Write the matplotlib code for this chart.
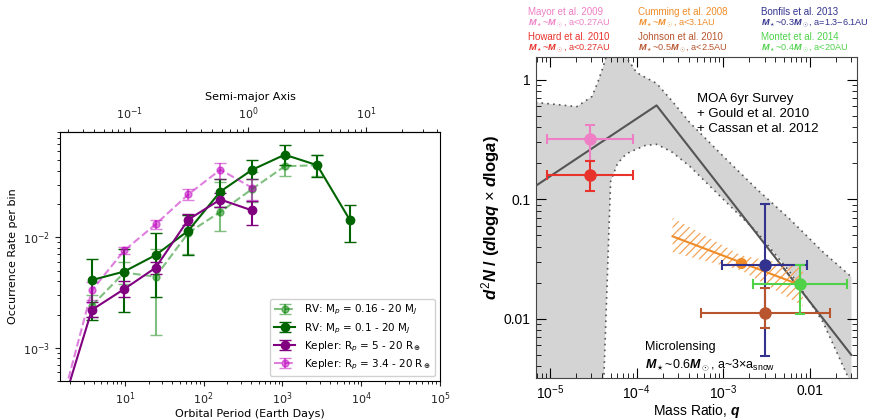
import matplotlib.pyplot as plt
import matplotlib.ticker as mticker
import numpy as np

# ---------------- left panel: occurrence rate vs orbital period ----------------
rv_wide_P = [3.8, 9.8, 24.5, 64, 163, 415, 1070, 2760]
rv_wide = [2.4e-3, 4.8e-3, 4.4e-3, 1.1e-2, 1.7e-2, 2.75e-2, 4.4e-2, 4.5e-2]
rv_wide_lo = [1.9e-3, 3.8e-3, 1.3e-3, 7.0e-3, 1.15e-2, 2.1e-2, 3.6e-2, 3.6e-2]
rv_wide_hi = [3.0e-3, 6.0e-3, 7.8e-3, 1.6e-2, 3.2e-2, 3.9e-2, 5.3e-2, 5.6e-2]

rv_P = [3.8, 9.8, 24.5, 64, 163, 415, 1070, 2760, 7200]
rv = [4.1e-3, 4.9e-3, 6.9e-3, 1.15e-2, 2.6e-2, 4.1e-2, 5.6e-2, 4.5e-2, 1.43e-2]
rv_lo = [1.8e-3, 2.1e-3, 2.9e-3, 6.9e-3, 1.9e-2, 3.4e-2, 4.5e-2, 3.5e-2, 9.0e-3]
rv_hi = [6.4e-3, 7.8e-3, 1.09e-2, 1.6e-2, 3.4e-2, 5.0e-2, 6.8e-2, 5.6e-2, 1.95e-2]

kep_P = [1.5, 3.8, 9.8, 24.5, 64, 163, 415]
kep = [2.5e-4, 2.2e-3, 3.4e-3, 5.3e-3, 1.45e-2, 2.2e-2, 1.75e-2]
kep_lo = [2.0e-4, 1.9e-3, 2.9e-3, 4.7e-3, 1.28e-2, 1.9e-2, 1.3e-2]
kep_hi = [3.0e-4, 2.6e-3, 4.0e-3, 6.0e-3, 1.62e-2, 2.5e-2, 2.15e-2]

kep_wide_P = [1.5, 3.8, 9.8, 24.5, 64, 163, 415]
kep_wide = [2.7e-4, 3.3e-3, 7.6e-3, 1.31e-2, 2.45e-2, 4.1e-2, 2.8e-2]
kep_wide_lo = [2.2e-4, 2.7e-3, 7.0e-3, 1.2e-2, 2.2e-2, 3.4e-2, 2.2e-2]
kep_wide_hi = [3.2e-4, 3.9e-3, 8.2e-3, 1.45e-2, 2.75e-2, 4.7e-2, 3.4e-2]

# ---------------- right panel: planet frequency vs mass ratio ----------------
fit_q = [6.9e-6, 1.7e-4, 0.03]
fit_n = [0.13, 0.61, 5.0e-3]

band_logq = [-5.3, -5.16, -4.885, -4.69, -4.515, -4.45, -4.39, -4.3, -4.22, -4.12,
             -4.0, -3.9, -3.77, -3.6, -3.385, -3.0, -2.61, -2.23, -1.85, -1.52]
band_hi_log = [-0.19, -0.19, -0.21, -0.225, -0.14, -0.025, 0.10, 0.32, 0.32, 0.19,
               0.06, 0.02, -0.03, -0.17, -0.36, -0.64, -0.917, -1.167, -1.44, -1.65]
band_lo_log = [-4.5, -4.2, -3.9, -3.6, -3.3, -3.0, -2.75, -0.85, -0.7, -0.62,
               -0.58, -0.55, -0.54, -0.6, -0.725, -1.0, -1.275, -1.61, -2.025, -2.55]

cum_q = [2.6e-4, 1.6e-3, 8.3e-3]
cum_line = [0.049, 0.0296, 0.0188]
cum_hi = [0.07, 0.034, 0.027]
cum_lo = [0.036, 0.0255, 0.0128]
cum_point_q, cum_point_n = 1.6e-3, 0.0296

surveys = ['Mayor et al. 2009', 'Cumming et al. 2008', 'Bonfils et al. 2013',
           'Howard et al. 2010', 'Johnson et al. 2010', 'Montet et al. 2014']
survey_info = [r'$M_\star$~$M_\odot$, a<0.27AU', r'$M_\star$~$M_\odot$, a<3.1AU',
               r'$M_\star$~0.3$M_\odot$, a=1.3$-$6.1AU',
               r'$M_\star$~$M_\odot$, a<0.27AU', r'$M_\star$~0.5$M_\odot$, a<2.5AU',
               r'$M_\star$~0.4$M_\odot$, a<20AU']
survey_colors = ['#ee7fc4', '#f08c28', '#33338f', '#e8322c', '#b8552e', '#4fd24a']

# error-bar points, one per survey (colour index into survey_colors)
pts_q = [2.9e-5, 2.9e-5, 3.0e-3, 3.0e-3, 7.7e-3]
pts_q_lo = [9.3e-6, 9.3e-6, 9.7e-4, 5.5e-4, 2.2e-3]
pts_q_hi = [9.2e-5, 9.2e-5, 9.25e-3, 0.017, 0.027]
pts_n = [0.32, 0.16, 0.028, 0.0112, 0.0197]
pts_n_lo = [0.21, 0.118, 4.9e-3, 8.4e-3, 0.011]
pts_n_hi = [0.42, 0.21, 0.092, 0.018, 0.028]
pts_color = [0, 3, 2, 4, 5]

plt.rcParams['mathtext.rm'] = 'Liberation Sans'
plt.rcParams['mathtext.it'] = 'Liberation Sans:italic:bold'
plt.rcParams['mathtext.bf'] = 'Liberation Sans:bold'
plt.rcParams['hatch.linewidth'] = 0.9

fig = plt.figure(figsize=(8.81, 4.20), dpi=100)

# ---- left ----
ax = fig.add_axes([0.0681, 0.0929, 0.4313, 0.5929])
ax.set_xscale('log')
ax.set_yscale('log')


def errs(v, lo, hi):
    v, lo, hi = map(np.asarray, (v, lo, hi))
    return [v - lo, hi - v]


ax.errorbar(rv_wide_P, rv_wide, yerr=errs(rv_wide, rv_wide_lo, rv_wide_hi), color='green',
            alpha=0.5, ls='--', marker='o', ms=5, capsize=4, lw=1.5,
            label=r'RV: M$_p$ = 0.16 - 20 M$_J$')
ax.errorbar(rv_P, rv, yerr=errs(rv, rv_lo, rv_hi), color='darkgreen', ls='-', marker='o',
            ms=6, capsize=4, lw=1.5, label=r'RV: M$_p$ = 0.1 - 20 M$_J$')
ax.errorbar(kep_P, kep, yerr=errs(kep, kep_lo, kep_hi), color='purple', ls='-', marker='o',
            ms=6, capsize=4, lw=1.5, label=r'Kepler: R$_p$ = 5 - 20 R$_\oplus$')
ax.errorbar(kep_wide_P, kep_wide, yerr=errs(kep_wide, kep_wide_lo, kep_wide_hi),
            color='m', alpha=0.5, ls='--', marker='o', ms=5, capsize=4, lw=1.5,
            label=r'Kepler: R$_p$ = 3.4 - 20 R$_\oplus$')

ax.set_xlim(1.5, 1e5)
ax.set_ylim(5e-4, 0.09)
ax.set_xlabel('Orbital Period (Earth Days)', fontsize=8, labelpad=1)
ax.set_ylabel('Occurrence Rate per bin', fontsize=8)
ax.tick_params(labelsize=8, colors='#222222')
ax.legend(loc='lower right', fontsize=7.5, handlelength=2, borderpad=0.4,
          labelspacing=0.35, framealpha=0.9)


def p2a(p):
    return (np.clip(p, 1e-9, None) / 365.25) ** (2.0 / 3.0)


def a2p(a):
    return 365.25 * np.clip(a, 1e-9, None) ** 1.5


top = ax.secondary_xaxis('top', functions=(p2a, a2p))
top.xaxis.set_major_locator(mticker.FixedLocator([0.1, 1, 10]))
top.xaxis.set_major_formatter(mticker.FixedFormatter(
    [r'$10^{-1}$', r'$10^{0}$', r'$10^{1}$']))
top.xaxis.set_minor_locator(mticker.FixedLocator(
    [m * d for d in (0.01, 0.1, 1, 10) for m in range(2, 10) if 0.026 < m * d < 60]))
top.xaxis.set_minor_formatter(mticker.NullFormatter())
top.set_xlabel('Semi-major Axis', fontsize=8)
top.tick_params(labelsize=8, colors='#222222')

# ---- right ----
bx = fig.add_axes([0.6084, 0.1, 0.3644, 0.7643])
bx.set_xscale('log')
bx.set_yscale('log')

bq = 10 ** np.array(band_logq)
bx.fill_between(bq, 10 ** np.array(band_lo_log), 10 ** np.array(band_hi_log),
                color='#d4d4d4', lw=0, zorder=1)
bx.plot(bq, 10 ** np.array(band_hi_log), ls=(0, (1, 2.5)), color='#555555', lw=1.2, zorder=2)
bx.plot(bq, 10 ** np.array(band_lo_log), ls=(0, (1, 2.5)), color='#555555', lw=1.2, zorder=2)
bx.plot(fit_q, fit_n, color='#555555', lw=1.5, zorder=3)

bx.fill_between(cum_q, cum_lo, cum_hi, facecolor='none', edgecolor='#f5a458',
                hatch='////', lw=0, zorder=3)
bx.plot([cum_q[0], cum_q[-1]], [cum_line[0], cum_line[-1]], color=survey_colors[1],
        lw=1.5, zorder=4)
bx.plot(cum_point_q, cum_point_n, 'o', color=survey_colors[1], ms=7, zorder=5)

for i in range(len(pts_q)):
    c = survey_colors[pts_color[i]]
    bx.errorbar(pts_q[i], pts_n[i],
                xerr=[[pts_q[i] - pts_q_lo[i]], [pts_q_hi[i] - pts_q[i]]],
                yerr=[[pts_n[i] - pts_n_lo[i]], [pts_n_hi[i] - pts_n[i]]],
                fmt='o', color=c, ms=8, capsize=3.5, elinewidth=1.5, capthick=1.5, zorder=6)

bx.set_xlim(6.9e-6, 0.035)
bx.set_ylim(3.2e-3, 1.55)
bx.xaxis.set_major_locator(mticker.FixedLocator([1e-5, 1e-4, 1e-3, 1e-2]))
bx.xaxis.set_major_formatter(mticker.FixedFormatter(
    [r'10$^{-5}$', r'10$^{-4}$', r'10$^{-3}$', '0.01']))
bx.yaxis.set_major_locator(mticker.FixedLocator([0.01, 0.1, 1]))
bx.yaxis.set_major_formatter(mticker.FixedFormatter(['0.01', '0.1', '1']))
bx.xaxis.set_minor_locator(mticker.LogLocator(subs=np.arange(2, 10), numticks=20))
bx.yaxis.set_minor_locator(mticker.LogLocator(subs=np.arange(2, 10), numticks=20))
bx.yaxis.set_minor_formatter(mticker.NullFormatter())
bx.xaxis.set_minor_formatter(mticker.NullFormatter())
bx.tick_params(which='both', direction='in', top=True, right=True, labelsize=10,
               labelfontfamily='Liberation Sans', pad=4)
bx.tick_params(which='major', length=7)
bx.tick_params(which='minor', length=3.5)
for lab in bx.get_xticklabels() + bx.get_yticklabels():
    lab.set_math_fontfamily('custom')
for s in bx.spines.values():
    s.set_color('#444444')

bx.set_xlabel(r'Mass Ratio, $q$', fontsize=10, family='Liberation Sans',
              math_fontfamily='custom', labelpad=0)
bx.set_ylabel(r'$d^2N$ / ($d$log$q$ $\times$ $d$log$a$)', fontsize=12,
              family='Liberation Sans', fontweight='bold', math_fontfamily='custom',
              labelpad=1)

bx.text(0.5, 0.822, 'MOA 6yr Survey\n+ Gould et al. 2010\n+ Cassan et al. 2012',
        transform=bx.transAxes, fontsize=9.5, family='Liberation Sans', va='center',
        linespacing=1.3)
bx.text(0.34, 0.066, 'Microlensing\n' + r'$M_\star$~0.6$M_\odot$, a~3$\times$a$_{\rm snow}$',
        transform=bx.transAxes, fontsize=9, family='Liberation Sans', va='center',
        math_fontfamily='custom', linespacing=1.45)

col_x = [528, 638, 761]
row_y = [12, 37]
for k, (name, info, c) in enumerate(zip(surveys, survey_info, survey_colors)):
    x = col_x[k % 3] / 881
    y = 1 - row_y[k // 3] / 420
    fig.text(x, y, name, color=c, fontsize=7, family='Liberation Sans', va='center')
    fig.text(x, y - 11 / 420, info, color=c, fontsize=6.6, family='Liberation Sans',
             va='center', math_fontfamily='custom')

fig.savefig('out.png', dpi=100)
